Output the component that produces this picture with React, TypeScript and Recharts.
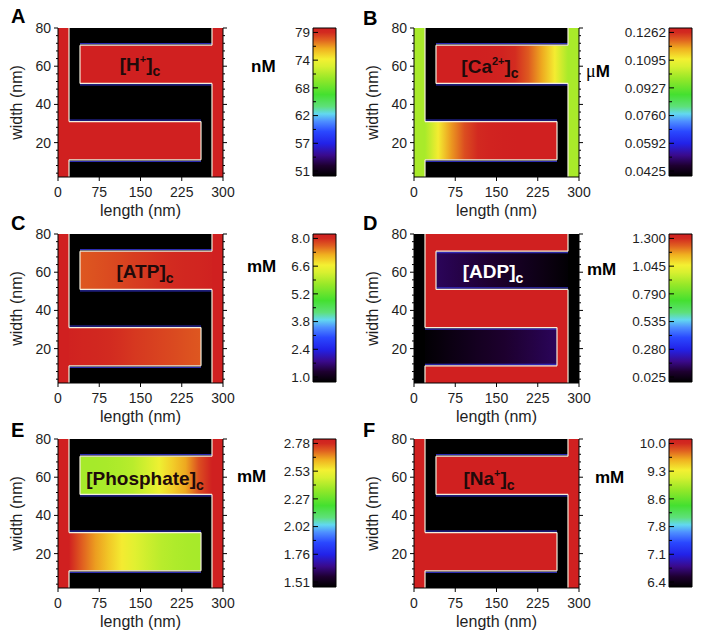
import React from 'react';
import { ComposedChart, XAxis, YAxis, ReferenceArea, ReferenceLine } from 'recharts';

const FONT = '"Liberation Sans", Arial, Helvetica, sans-serif';
const INK = '#1e1e1e';

// axes
const lengthTicks = [0, 75, 150, 225, 300];
const widthTicks = [4, 8, 12, 16, 20, 24, 28, 32, 36, 40, 44, 48, 52, 56, 60, 64, 68, 72, 76, 80];
const scaleTicks = [0, 0.5, 1, 1.5, 2, 2.5, 3, 3.5, 4, 4.5, 5];

// model geometry (nm): two columns and two interdigitated arms
const columns = [
  { x1: 0, x2: 20 },
  { x1: 280, x2: 300 },
];
const upperArm = { x1: 40, x2: 280, y1: 51, y2: 71 };
const lowerArm = { x1: 20, x2: 260, y1: 11, y2: 31 };
const upperSamples = [40, 64, 88, 112, 136, 160, 184, 208, 232, 256, 280];
const lowerSamples = [20, 44, 68, 92, 116, 140, 164, 188, 212, 236, 260];

const outline = [
  [[20, 80], [20, 31]],
  [[20, 31], [260, 31]],
  [[260, 31], [260, 11]],
  [[260, 11], [20, 11]],
  [[20, 11], [20, 2]],
  [[280, 2], [280, 51]],
  [[280, 51], [40, 51]],
  [[40, 51], [40, 71]],
  [[40, 71], [280, 71]],
  [[280, 71], [280, 80]],
];
const armEdges = [
  { x1: 20, x2: 260, y: 31, out: 1 },
  { x1: 20, x2: 260, y: 11, out: -1 },
  { x1: 40, x2: 280, y: 71, out: 1 },
  { x1: 40, x2: 280, y: 51, out: -1 },
];

// colour map (fraction of range -> colour)
const rainbow: [number, string][] = [
  [0, '#000000'],
  [0.07, '#1e0030'],
  [0.14, '#3a0a8c'],
  [0.22, '#2222e8'],
  [0.3, '#2a48ff'],
  [0.37, '#4e90ff'],
  [0.42, '#62d8f0'],
  [0.47, '#5ee07a'],
  [0.55, '#44e030'],
  [0.66, '#98e828'],
  [0.74, '#d8f030'],
  [0.79, '#f4f032'],
  [0.86, '#f0b020'],
  [0.92, '#e06020'],
  [0.97, '#d22a20'],
  [1, '#d02020'],
];

// concentrations
const hRange = [51, 79];
const hScale = ['51', '57', '62', '68', '74', '79'];
const hUpper = [79, 79, 79, 79, 79, 79, 79, 79, 79, 79, 79];
const hLower = [79, 79, 79, 79, 79, 79, 79, 79, 79, 79, 79];

const caRange = [0.0425, 0.1262];
const caScale = ['0.0425', '0.0592', '0.0760', '0.0927', '0.1095', '0.1262'];
const caUpper = [0.1262, 0.1262, 0.1262, 0.1262, 0.126, 0.1255, 0.1235, 0.12, 0.115, 0.109, 0.0995];
const caLower = [0.0995, 0.109, 0.116, 0.121, 0.124, 0.1255, 0.126, 0.1262, 0.1262, 0.1262, 0.1262];

const atpRange = [1.0, 8.0];
const atpScale = ['1.0', '2.4', '3.8', '5.2', '6.6', '8.0'];
const atpUpper = [7.5, 7.53, 7.57, 7.61, 7.66, 7.7, 7.75, 7.8, 7.85, 7.9, 7.95];
const atpLower = [7.95, 7.9, 7.85, 7.8, 7.75, 7.7, 7.66, 7.62, 7.58, 7.54, 7.5];

const adpRange = [0.025, 1.3];
const adpScale = ['0.025', '0.280', '0.535', '0.790', '1.045', '1.300'];
const adpUpper = [0.155, 0.145, 0.135, 0.125, 0.115, 0.102, 0.09, 0.077, 0.063, 0.048, 0.032];
const adpLower = [0.032, 0.046, 0.06, 0.073, 0.086, 0.098, 0.11, 0.122, 0.133, 0.144, 0.155];

const piRange = [1.51, 2.78];
const piScale = ['1.51', '1.76', '2.02', '2.27', '2.53', '2.78'];
const piUpper = [2.37, 2.37, 2.375, 2.385, 2.4, 2.44, 2.5, 2.56, 2.61, 2.7, 2.78];
const piLower = [2.78, 2.68, 2.62, 2.57, 2.52, 2.47, 2.43, 2.4, 2.385, 2.375, 2.37];

const naRange = [6.4, 10.0];
const naScale = ['6.4', '7.1', '7.8', '8.6', '9.3', '10.0'];
const naUpper = [10, 10, 10, 10, 10, 10, 10, 10, 10, 10, 10];
const naLower = [10, 10, 10, 10, 10, 10, 10, 10, 10, 10, 10];

const panels = [
  { letter: 'A', name: 'H', sup: '+', unit: 'nM', range: hRange, scale: hScale, outside: 51, column: 79, upper: hUpper, lower: hLower, darkInside: false, light: false },
  { letter: 'B', name: 'Ca', sup: '2+', unit: 'μM', range: caRange, scale: caScale, outside: 0.0425, column: 0.0995, upper: caUpper, lower: caLower, darkInside: false, light: false },
  { letter: 'C', name: 'ATP', sup: '', unit: 'mM', range: atpRange, scale: atpScale, outside: 1.0, column: 8.0, upper: atpUpper, lower: atpLower, darkInside: false, light: false },
  { letter: 'D', name: 'ADP', sup: '', unit: 'mM', range: adpRange, scale: adpScale, outside: 1.3, column: 0.025, upper: adpUpper, lower: adpLower, darkInside: true, light: true },
  { letter: 'E', name: 'Phosphate', sup: '', unit: 'mM', range: piRange, scale: piScale, outside: 1.51, column: 2.78, upper: piUpper, lower: piLower, darkInside: false, light: false },
  { letter: 'F', name: 'Na', sup: '+', unit: 'mM', range: naRange, scale: naScale, outside: 6.4, column: 10.0, upper: naUpper, lower: naLower, darkInside: false, light: false },
];

// page placement of each panel and its texts
const layout = [
  { left: 0, top: 0, letterAt: [11, 23], tagAt: [140, 71], unitAt: [251, 72] },
  { left: 356, top: 0, letterAt: [363, 25], tagAt: [490, 73], unitAt: [586, 77] },
  { left: 0, top: 206, letterAt: [11, 230], tagAt: [145, 278], unitAt: [247, 272] },
  { left: 356, top: 206, letterAt: [363, 230], tagAt: [493, 278], unitAt: [587, 275] },
  { left: 0, top: 411, letterAt: [11, 437], tagAt: [145, 485], unitAt: [237, 482] },
  { left: 356, top: 411, letterAt: [363, 437], tagAt: [489, 485], unitAt: [595, 483] },
];

function hexToRgb(h: string) {
  const n = parseInt(h.slice(1), 16);
  return [(n >> 16) & 255, (n >> 8) & 255, n & 255];
}

function colorAt(t: number) {
  const u = Math.min(1, Math.max(0, t));
  for (let i = 1; i < rainbow.length; i++) {
    const [t1, c1] = rainbow[i];
    if (u <= t1) {
      const [t0, c0] = rainbow[i - 1];
      const f = (u - t0) / (t1 - t0);
      const a = hexToRgb(c0);
      const b = hexToRgb(c1);
      const m = a.map((v, k) => Math.round(v + (b[k] - v) * f));
      return `rgb(${m[0]},${m[1]},${m[2]})`;
    }
  }
  return rainbow[rainbow.length - 1][1];
}

const WidthTick = (props: any) => {
  const { x, y, payload } = props;
  const v = payload.value;
  const major = v % 20 === 0;
  const ax = x + 7;
  return (
    <g>
      <line x1={ax} x2={ax - (major ? 4 : 2)} y1={y} y2={y} stroke="#000" />
      {major && (
        <text x={x} y={y} dy="0.35em" textAnchor="end" fontSize={14} fill={INK} fontFamily={FONT}>
          {v}
        </text>
      )}
    </g>
  );
};

const FrameTick = (props: any) => {
  const { x, y, payload } = props;
  const major = payload.value % 20 === 0;
  const ax = x - 4;
  return <line x1={ax} x2={ax + (major ? 4 : 2)} y1={y} y2={y} stroke="#000" />;
};

const makeScaleTick = (labels: string[]) => (props: any) => {
  const { x, y, payload } = props;
  const v = payload.value;
  const major = Number.isInteger(v);
  const ax = x + 3;
  return (
    <g>
      <line x1={ax} x2={ax + (major ? 5 : 3)} y1={y} y2={y} stroke="#000" />
      {major && (
        <text x={x} y={y} dy="0.35em" textAnchor="end" fontSize={13.5} fill={INK} fontFamily={FONT}>
          {labels[v]}
        </text>
      )}
    </g>
  );
};

function Panel({ p, idx }: { p: any; idx: number }) {
  const { left, top } = layout[idx];
  const [min, max] = p.range;
  const tone = (v: number) => colorAt((v - min) / (max - min));
  const upId = `up${idx}`;
  const loId = `lo${idx}`;
  const cbId = `cb${idx}`;
  const blueShift = 0.8;
  return (
    <>
      <div style={{ position: 'absolute', left: left + 263, top: top + 18 }}>
        <ComposedChart width={75} height={168} margin={{ top: 10, right: 2, bottom: 10, left: 0 }}>
          <defs>
            <linearGradient id={cbId} x1="0" y1="1" x2="0" y2="0">
              {rainbow.map(([t, c], k) => (
                <stop key={k} offset={t} stopColor={c} />
              ))}
            </linearGradient>
          </defs>
          <ReferenceArea
            x1={0}
            x2={1}
            y1={-0.18}
            y2={5.16}
            ifOverflow="visible"
            fill={`url(#${cbId})`}
            fillOpacity={1}
            stroke="#000"
            strokeWidth={1}
          />
          <XAxis
            type="number"
            dataKey="x"
            domain={[0, 1]}
            allowDataOverflow
            height={0}
            tick={false}
            tickLine={false}
            axisLine={false}
          />
          <YAxis
            type="number"
            domain={[-0.18, 5.16]}
            ticks={scaleTicks}
            interval={0}
            allowDataOverflow
            axisLine={false}
            tickLine={false}
            width={50}
            tickSize={0}
            tickMargin={3}
            tick={makeScaleTick(p.scale)}
          />
        </ComposedChart>
      </div>
      <div style={{ position: 'absolute', left, top }}>
        <ComposedChart width={245} height={223} margin={{ top: 28, right: 16, bottom: 6, left: 0 }}>
          <defs>
            <linearGradient id={upId} x1="0" y1="0" x2="1" y2="0">
              {upperSamples.map((x, k) => (
                <stop key={k} offset={(x - upperArm.x1) / (upperArm.x2 - upperArm.x1)} stopColor={tone(p.upper[k])} />
              ))}
            </linearGradient>
            <linearGradient id={loId} x1="0" y1="0" x2="1" y2="0">
              {lowerSamples.map((x, k) => (
                <stop key={k} offset={(x - lowerArm.x1) / (lowerArm.x2 - lowerArm.x1)} stopColor={tone(p.lower[k])} />
              ))}
            </linearGradient>
          </defs>
          <ReferenceArea yAxisId="l" x1={0} x2={300} y1={2} y2={80} fill={tone(p.outside)} fillOpacity={1} stroke="none" />
          {columns.map((c, k) => (
            <ReferenceArea key={`c${k}`} yAxisId="l" x1={c.x1} x2={c.x2} y1={2} y2={80} fill={tone(p.column)} fillOpacity={1} stroke="none" />
          ))}
          <ReferenceArea yAxisId="l" x1={upperArm.x1} x2={upperArm.x2} y1={upperArm.y1} y2={upperArm.y2} fill={`url(#${upId})`} fillOpacity={1} stroke="none" />
          <ReferenceArea yAxisId="l" x1={lowerArm.x1} x2={lowerArm.x2} y1={lowerArm.y1} y2={lowerArm.y2} fill={`url(#${loId})`} fillOpacity={1} stroke="none" />
          {armEdges.map((e, k) => {
            const yy = e.y + (p.darkInside ? -e.out : e.out) * blueShift;
            return (
              <ReferenceLine
                key={`b${k}`}
                yAxisId="l"
                segment={[{ x: e.x1, y: yy }, { x: e.x2, y: yy }]}
                stroke="#3434d4"
                strokeWidth={1}
              />
            );
          })}
          {outline.map((s, k) => (
            <ReferenceLine
              key={`o${k}`}
              yAxisId="l"
              segment={[{ x: s[0][0], y: s[0][1] }, { x: s[1][0], y: s[1][1] }]}
              stroke="#f4eedc"
              strokeWidth={1.2}
            />
          ))}
          <XAxis
            type="number"
            dataKey="x"
            domain={[0, 300]}
            ticks={lengthTicks}
            interval={0}
            allowDataOverflow
            stroke="#000"
            tickSize={4}
            tickMargin={6}
            height={40}
            tick={{ fontSize: 14, fill: INK, fontFamily: FONT }}
            label={{ value: 'length (nm)', position: 'insideBottom', offset: 1, fontSize: 16, fill: INK, fontFamily: FONT }}
          />
          <YAxis
            yAxisId="l"
            type="number"
            domain={[2, 80]}
            ticks={widthTicks}
            interval={0}
            allowDataOverflow
            stroke="#000"
            width={58}
            tickSize={4}
            tickMargin={3}
            tickLine={false}
            tick={WidthTick}
            label={{ value: 'width (nm)', angle: -90, position: 'insideLeft', offset: 16, fontSize: 16, fill: INK, fontFamily: FONT, style: { textAnchor: 'middle' } }}
          />
          <YAxis
            yAxisId="r"
            orientation="right"
            type="number"
            domain={[2, 80]}
            ticks={widthTicks}
            interval={0}
            allowDataOverflow
            stroke="#000"
            width={6}
            tickSize={4}
            tickMargin={0}
            tickLine={false}
            tick={FrameTick}
          />
        </ComposedChart>
      </div>
    </>
  );
}

function Texts() {
  return (
    <svg width={701} height={639} style={{ position: 'absolute', left: 0, top: 0, pointerEvents: 'none' }} fontFamily={FONT}>
      {panels.map((p, i) => {
        const l = layout[i];
        return (
          <g key={p.letter}>
            <text x={l.letterAt[0]} y={l.letterAt[1]} fontSize={20} fontWeight="bold" fill="#000">
              {p.letter}
            </text>
            <text
              x={l.tagAt[0]}
              y={l.tagAt[1]}
              fontSize={19}
              fontWeight="bold"
              textAnchor="middle"
              fill={p.light ? '#ffffff' : '#200a0a'}
            >
              [{p.name}
              {p.sup && (
                <tspan fontSize={11} dy={-8}>
                  {p.sup}
                </tspan>
              )}
              <tspan dy={p.sup ? 8 : 0}>]</tspan>
              <tspan fontSize={14} dy={5}>
                c
              </tspan>
            </text>
            <text x={l.unitAt[0]} y={l.unitAt[1]} fontSize={17} fontWeight="bold" fill="#000">
              {p.unit.startsWith('μ') ? (
                <>
                  <tspan fontFamily='"Liberation Serif", serif' fontWeight="normal" fontSize={18}>
                    μ
                  </tspan>
                  M
                </>
              ) : (
                p.unit
              )}
            </text>
          </g>
        );
      })}
    </svg>
  );
}

export default function App() {
  return (
    <div style={{ position: 'absolute', left: 0, top: 0, width: 701, height: 639, background: '#fff', fontFamily: FONT }}>
      {panels.map((p, i) => (
        <Panel key={p.letter} p={p} idx={i} />
      ))}
      <Texts />
    </div>
  );
}
